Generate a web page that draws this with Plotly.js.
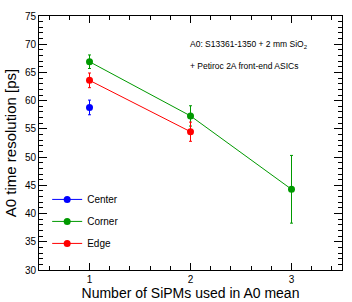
<!DOCTYPE html>
<html>
<head>
<meta charset="utf-8">
<script src="https://cdn.plot.ly/plotly-3.0.1.min.js"></script>
<style>html,body{margin:0;padding:0;background:#fff;}#chart{width:352px;height:302px;}</style>
</head>
<body>
<div id="chart"></div>
<script>
// Data
const nCenter = [1];
const center = [58.8];
const centerErr = [1.3];

const nCorner = [1, 2, 3];
const corner = [66.9, 57.3, 44.3];
const cornerErr = [1.2, 1.8, 6.0];

const nEdge = [1, 2];
const edge = [63.6, 54.5];
const edgeErr = [1.3, 1.7];

const xTickVals = [1, 2, 3];
const yTickVals = [30, 35, 40, 45, 50, 55, 60, 65, 70, 75];

const FONT = 'Liberation Sans, Arial, Helvetica, sans-serif';

function series(name, x, y, err, color, group) {
  return {
    type: 'scatter', mode: 'lines+markers', name: name, x: x, y: y,
    legendgroup: group,
    line: {color: color, width: 1},
    marker: {color: color, size: 7, symbol: 'circle'},
    error_y: {type: 'data', array: err, visible: true, color: color, thickness: 1, width: 1.5}
  };
}

const data = [
  series('Center', nCenter, center, centerErr, '#0000ff', 'a'),
  series('Corner', nCorner, corner, cornerErr, '#009900', 'b'),
  series('Edge', nEdge, edge, edgeErr, '#ff0000', 'c')
];

const layout = {
  width: 352, height: 302,
  margin: {l: 39, r: 10, t: 16, b: 32, pad: 0},
  paper_bgcolor: '#fff', plot_bgcolor: '#fff',
  font: {family: FONT, color: '#000', size: 10},
  showlegend: true,
  legend: {x: 0.027, y: 0.335, xanchor: 'left', yanchor: 'top', bgcolor: 'rgba(0,0,0,0)',
           font: {size: 10, family: FONT}, tracegroupgap: 3, borderwidth: 0},
  xaxis: {
    range: [0.5, 3.5], tickvals: xTickVals, ticktext: xTickVals.map(String),
    showgrid: false, zeroline: false, showline: true, linecolor: '#000', linewidth: 1,
    mirror: 'ticks', ticks: 'inside', ticklen: 7, tickcolor: '#000',
    tickfont: {size: 10, family: FONT},
    minor: {dtick: 0.2, tick0: 0, ticks: 'inside', ticklen: 4, tickcolor: '#000', showgrid: false},
    title: {text: 'Number of SiPMs used in A0 mean', font: {size: 14, family: FONT}, standoff: 2},
    automargin: false
  },
  yaxis: {
    range: [30, 75], tickvals: yTickVals, ticktext: yTickVals.map(String),
    showgrid: false, zeroline: false, showline: true, linecolor: '#000', linewidth: 1,
    mirror: 'ticks', ticks: 'inside', ticklen: 8, tickcolor: '#000',
    tickfont: {size: 10, family: FONT},
    minor: {dtick: 1, tick0: 0, ticks: 'inside', ticklen: 4, tickcolor: '#000', showgrid: false},
    title: {text: 'A0 time resolution [ps]', font: {size: 15, family: FONT}, standoff: 4},
    automargin: false
  },
  annotations: [
    {xref: 'paper', yref: 'paper', x: (188 - 39) / 303, y: (270 - 44) / 254, xanchor: 'left', yanchor: 'middle',
     text: 'A0: S13361-1350 + 2 mm SiO<sub>2</sub>', showarrow: false, font: {size: 8.5, family: FONT}},
    {xref: 'paper', yref: 'paper', x: (188 - 39) / 303, y: (270 - 66) / 254, xanchor: 'left', yanchor: 'middle',
     text: '+ Petiroc 2A front-end ASICs', showarrow: false, font: {size: 8.5, family: FONT}}
  ]
};

Plotly.newPlot('chart', data, layout, {staticPlot: true, displayModeBar: false});
</script>
</body>
</html>
